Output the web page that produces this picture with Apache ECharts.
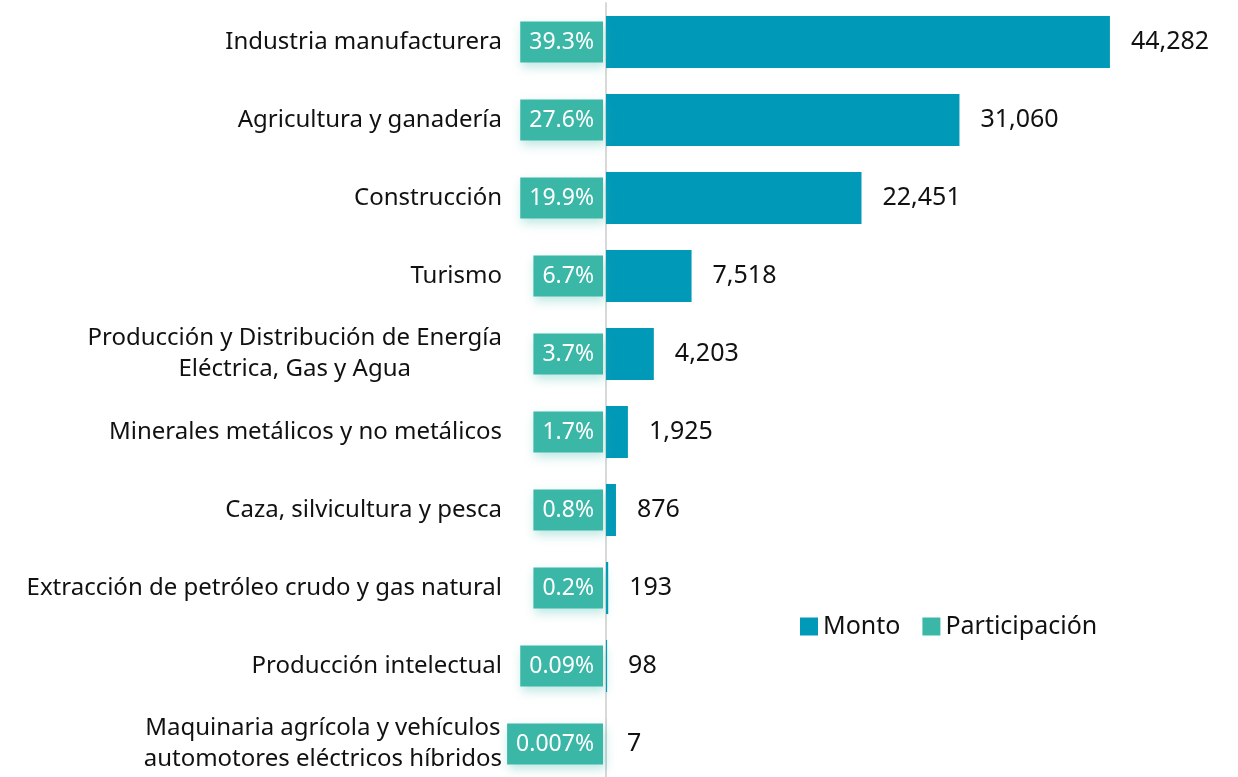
<!DOCTYPE html>
<html>
<head>
<meta charset="utf-8">
<script src="https://cdn.jsdelivr.net/npm/echarts@6/dist/echarts.min.js"></script>
<style>
  html, body { margin: 0; padding: 0; background: #fff; overflow: hidden; }
  #chart-container { width: 1238px; height: 786px; }
</style>
</head>
<body>
<div id="chart-container"></div>
<script>
let categorias = [
  'Industria manufacturera',
  'Agricultura y ganadería',
  'Construcción',
  'Turismo',
  'Producción y Distribución de Energía\nEléctrica, Gas y Agua',
  'Minerales metálicos y no metálicos',
  'Caza, silvicultura y pesca',
  'Extracción de petróleo crudo y gas natural',
  'Producción intelectual',
  'Maquinaria agrícola y vehículos\nautomotores eléctricos híbridos'
];
let monto = [44282, 31060, 22451, 7518, 4203, 1925, 876, 193, 98, 7];
let participacion = ['39.3', '27.6', '19.9', '6.7', '3.7', '1.7', '0.8', '0.2', '0.09', '0.007'];

let colorMonto = '#0099b8';
let colorPart = '#3bb7a7';
let fontFamily = '"Noto Sans", sans-serif';

let option = {
  animation: false,
  textStyle: { fontFamily },
  legend: {
    left: 795,
    top: 609,
    icon: 'rect',
    itemWidth: 18,
    itemHeight: 18,
    itemGap: 22,
    textStyle: { fontSize: 25, color: '#111', fontFamily },
    data: ['Monto', 'Participación']
  },
  grid: {
    left: 606,
    top: 3,
    width: 569,
    height: 780
  },
  xAxis: {
    type: 'value',
    min: 0,
    max: 50000,
    show: false
  },
  yAxis: {
    type: 'category',
    inverse: true,
    data: categorias,
    axisLine: { show: true, lineStyle: { color: '#d9d9d9', width: 2 } },
    axisTick: { show: false },
    axisLabel: {
      margin: 104,
      formatter: (v) => v.split('\n').map(s => '{c|' + s + '}').join('\n'),
      rich: {
        c: { align: 'center', fontSize: 24, lineHeight: 31, color: '#111', fontFamily }
      }
    }
  },
  series: [
    {
      name: 'Monto',
      type: 'bar',
      barWidth: 52,
      itemStyle: { color: colorMonto },
      label: {
        show: true,
        position: 'right',
        distance: 21,
        fontSize: 25,
        color: '#111',
        fontFamily,
        formatter: (p) => p.value.toLocaleString('en-US')
      },
      data: monto
    },
    {
      name: 'Participación',
      type: 'scatter',
      symbolSize: 0,
      itemStyle: { color: colorPart, opacity: 1 },
      z: 5,
      label: {
        show: true,
        position: 'left',
        distance: 3,
        fontSize: 23,
        lineHeight: 25,
        color: '#fff',
        fontFamily,
        backgroundColor: colorPart,
        padding: [8, 9],
        shadowColor: 'rgba(61,184,168,0.35)',
        shadowBlur: 10,
        shadowOffsetX: 2,
        shadowOffsetY: 4,
        formatter: (p) => participacion[p.dataIndex] + '%'
      },
      data: participacion.map((p, i) => [0, i])
    }
  ]
};

var myChart = echarts.init(document.getElementById('chart-container'));
myChart.setOption(option);
window.addEventListener('resize', myChart.resize);
</script>
</body>
</html>
